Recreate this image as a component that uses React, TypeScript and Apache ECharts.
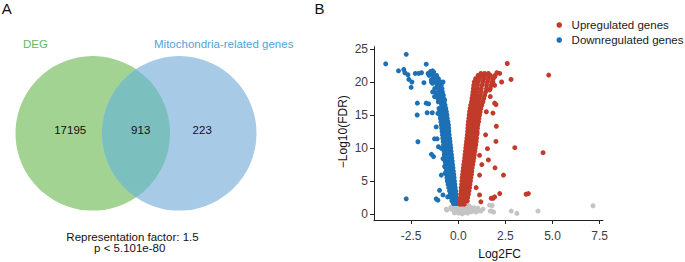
import { useEffect, useRef } from "react";
import * as echarts from "echarts";

// ---------- Panel A (Venn) ----------
const vennSets = ["DEG", "Mitochondria-related genes"];
const vennCounts = [17195, 913, 223];
const vennStats = ["Representation factor: 1.5", "p < 5.101e-80"];

// ---------- Panel B (volcano) ----------
const xTicks = [-2.5, 0, 2.5, 5, 7.5];
const yTicks = [0, 5, 10, 15, 20, 25];
const legendNames = ["Upregulated genes", "Downregulated genes"];

// dense band of upregulated genes, rows: [-log10FDR, log2FC...]
const upBandRows: number[][] = [
  [1.5, 0.08, 0.2, 0.32],
  [2.0, 0.1, 0.22, 0.36, 0.48],
  [2.5, 0.12, 0.25, 0.38, 0.5],
  [3.0, 0.13, 0.27, 0.4, 0.54],
  [3.5, 0.15, 0.29, 0.43, 0.57],
  [4.0, 0.16, 0.3, 0.45, 0.6],
  [4.5, 0.18, 0.32, 0.47, 0.62],
  [5.0, 0.19, 0.34, 0.5, 0.65],
  [5.5, 0.21, 0.36, 0.52, 0.67],
  [6.0, 0.23, 0.38, 0.54, 0.7],
  [6.5, 0.25, 0.4, 0.56, 0.72],
  [7.0, 0.27, 0.42, 0.58, 0.74],
  [7.5, 0.29, 0.44, 0.6, 0.77],
  [8.0, 0.32, 0.47, 0.63, 0.8],
  [8.5, 0.34, 0.5, 0.66, 0.83],
  [9.0, 0.36, 0.52, 0.68, 0.85],
  [9.5, 0.38, 0.54, 0.7, 0.88],
  [10.0, 0.4, 0.56, 0.72, 0.9],
  [10.5, 0.42, 0.58, 0.75, 0.93],
  [11.0, 0.44, 0.6, 0.77, 0.95],
  [11.5, 0.46, 0.62, 0.79, 0.97],
  [12.0, 0.48, 0.64, 0.8, 0.98],
  [12.5, 0.5, 0.66, 0.82, 1.0],
  [13.0, 0.51, 0.68, 0.84, 1.02],
  [13.5, 0.52, 0.7, 0.86, 1.04],
  [14.0, 0.54, 0.72, 0.9, 1.08],
  [14.5, 0.56, 0.74, 0.92, 1.1],
  [15.0, 0.58, 0.76, 0.95, 1.13],
  [15.5, 0.6, 0.78, 0.97, 1.16],
  [16.0, 0.63, 0.82, 1.0, 1.2],
  [16.5, 0.66, 0.85, 1.04, 1.25],
  [17.0, 0.7, 0.88, 1.08, 1.3],
  [17.5, 0.73, 0.92, 1.12, 1.35],
  [18.0, 0.76, 0.95, 1.16, 1.4],
  [18.5, 0.78, 0.98, 1.2, 1.45],
  [19.0, 0.8, 1.0, 1.22, 1.5, 1.7],
  [19.5, 0.82, 1.02, 1.25, 1.5, 1.75],
  [20.0, 0.85, 1.05, 1.3, 1.55, 1.8],
  [20.5, 0.92, 1.12, 1.35, 1.6, 1.85],
  [21.0, 1.05, 1.25, 1.45, 1.7, 1.95],
  [21.3, 1.2, 1.4, 1.6],
];
const upOutliers: number[][] = [
  [2.6, 22.8], [4.8, 21.05], [2.8, 20.4], [2.3, 20.0], [2.2, 21.3], [2.05, 21.4],
  [1.93, 20.8], [1.84, 20.0], [1.93, 19.5], [1.66, 18.8], [1.93, 16.8], [1.7, 17.8],
  [1.84, 15.3], [2.02, 13.3], [1.49, 15.5], [2.0, 16.6], [3.0, 10.05], [4.5, 9.3],
  [2.0, 11.0], [1.55, 9.9], [1.6, 8.2], [1.95, 7.0], [2.4, 5.9], [2.2, 3.1],
  [3.6, 3.0], [3.72, 3.1], [1.85, 2.4], [1.2, 1.85], [1.13, 5.9], [1.13, 8.9],
  [1.0, 12.2], [1.13, 2.9], [1.75, 2.4], [1.93, 2.6], [1.3, 17.0], [1.45, 12.0],
  [1.25, 7.5], [0.95, 4.0],
];

// dense band of downregulated genes, rows: [-log10FDR, log2FC...]
const downBandRows: number[][] = [
  [1.6, -0.1, -0.25],
  [2.0, -0.08, -0.2, -0.34],
  [2.5, -0.1, -0.24, -0.38],
  [3.0, -0.12, -0.26, -0.42],
  [3.5, -0.14, -0.3, -0.46],
  [4.0, -0.16, -0.32, -0.5],
  [4.5, -0.18, -0.35, -0.54],
  [5.0, -0.2, -0.38, -0.58],
  [5.5, -0.22, -0.4, -0.6],
  [6.0, -0.24, -0.42, -0.62],
  [6.5, -0.26, -0.44, -0.64],
  [7.0, -0.28, -0.46, -0.66],
  [7.5, -0.3, -0.48, -0.68],
  [8.0, -0.32, -0.5, -0.7],
  [8.5, -0.34, -0.52, -0.72],
  [9.0, -0.36, -0.54, -0.74],
  [9.5, -0.38, -0.56, -0.75],
  [10.0, -0.4, -0.58, -0.76],
  [10.5, -0.42, -0.6, -0.78],
  [11.0, -0.44, -0.62, -0.8],
  [11.5, -0.46, -0.64, -0.82],
  [12.0, -0.48, -0.66, -0.84],
  [12.5, -0.5, -0.68, -0.86],
  [13.0, -0.51, -0.7, -0.88],
  [13.5, -0.52, -0.72, -0.9],
  [14.0, -0.55, -0.73, -0.92],
  [14.5, -0.58, -0.76, -0.95],
  [15.0, -0.6, -0.78, -0.97],
  [15.5, -0.63, -0.82, -1.0],
  [16.0, -0.66, -0.85, -1.02],
  [16.5, -0.7, -0.88],
  [17.0, -0.74, -0.92, -1.06],
  [17.5, -0.78, -0.95],
  [18.0, -0.8, -1.0, -1.15],
  [18.5, -0.84, -1.04],
  [19.0, -0.86, -1.08, -1.25],
  [19.5, -0.9, -1.12],
  [20.0, -0.95, -1.2, -1.42],
  [20.5, -1.05, -1.3],
  [21.0, -1.15, -1.38, -1.55],
  [21.5, -1.3, -1.45],
];
const downOutliers: number[][] = [
  [-3.85, 22.75], [-2.76, 24.2], [-3.17, 21.7], [-2.89, 21.9], [-2.83, 21.4], [-2.67, 21.1],
  [-2.62, 20.4], [-2.46, 20.0], [-2.5, 19.2], [-2.28, 21.3], [-2.1, 21.3], [-1.95, 21.4],
  [-1.7, 22.7], [-1.82, 19.9], [-1.6, 21.3], [-1.47, 21.6], [-1.36, 21.7], [-1.43, 20.3],
  [-1.3, 20.7], [-1.17, 20.0], [-1.36, 19.8], [-1.08, 19.7], [-1.0, 19.3], [-0.81, 20.0],
  [-0.9, 18.8], [-1.36, 18.5], [-1.17, 18.3], [-1.26, 17.8], [-1.08, 17.5], [-0.94, 17.8],
  [-0.81, 18.0], [-0.72, 17.3], [-0.9, 16.8], [-2.17, 16.8], [-1.7, 16.8], [-1.57, 16.7],
  [-1.65, 15.35], [-1.38, 15.35], [-2.18, 15.0], [-1.08, 15.25], [-0.69, 15.0], [-0.9, 14.5],
  [-0.63, 14.2], [-0.81, 13.7], [-0.55, 13.5], [-1.17, 13.2], [-0.72, 13.2], [-2.14, 10.95],
  [-1.26, 11.4], [-1.12, 11.4], [-1.05, 10.2], [-1.42, 9.05], [-1.31, 8.7], [-0.9, 9.95],
  [-0.81, 8.4], [-0.63, 7.9], [-0.72, 7.2], [-0.9, 5.9], [-0.69, 6.2], [-0.99, 3.6],
  [-0.81, 2.9], [-1.17, 2.3], [-2.76, 2.3], [-0.56, 2.6], [-1.08, 2.1],
];

// not significant genes
const nsGenes: number[][] = [
  [7.15, 1.26], [4.23, 0.45], [2.81, 0.45], [3.11, 0.1], [1.88, 0.3], [1.7, 0.45],
  [1.8, 1.3], [-0.6, 0.6], [0.93, 0.3], [1.2, 0.45], [-0.64, 0.76], [-0.37, 0.76],
  [0.83, 0.96], [1.04, 0.9], [1.02, 0.45], [1.31, 0.76], [1.66, 1.36], [1.78, 0.45],
  [0.51, 0.45], [0.24, 0.35], [-0.3, 1.2], [-0.2, 1.5], [-0.15, 0.9], [-0.05, 1.3],
  [0.0, 0.6], [0.05, 1.1], [0.1, 1.5], [0.15, 0.8], [0.2, 1.2], [0.25, 0.5],
  [0.3, 1.0], [0.35, 1.4], [0.4, 0.7], [0.45, 1.1], [0.5, 0.8], [0.55, 1.3],
  [0.6, 0.6], [0.65, 1.0], [-0.1, 0.4], [0.1, 0.3], [0.3, 0.2], [-0.25, 0.6],
  [0.2, 0.05], [0.0, 0.15], [0.4, 0.35], [-0.4, 1.0], [0.7, 0.35], [0.15, 1.7],
  [-0.2, 0.2], [0.5, 0.15], [0.75, 0.7], [0.35, 0.6], [-0.05, 0.85], [0.25, 0.95],
];

const flattenRows = (rows: number[][]) =>
  rows.flatMap(([y, ...xs]) => xs.map((x) => [x, y]));

const upGenes = [...flattenRows(upBandRows), ...upOutliers];
const downGenes = [...flattenRows(downBandRows), ...downOutliers];

const FONT = "Liberation Sans, Arial, Helvetica, sans-serif";
const RED = "#c13a2a";
const BLUE = "#1c71b6";
const GREY = "#c4c4c4";

// Venn geometry
const VENN_R = 77.3;
const VENN_CY = 133.3;
const VENN_CX = [92.8, 179.2];

export default function App() {
  const ref = useRef<HTMLDivElement>(null);

  useEffect(() => {
    if (!ref.current) return;

    // lens (intersection) of the two Venn circles
    const half = (VENN_CX[1] - VENN_CX[0]) / 2;
    const mid = VENN_CX[0] + half;
    const h = Math.sqrt(VENN_R * VENN_R - half * half);
    const top = VENN_CY - h;
    const bot = VENN_CY + h;
    const lens = `M${mid} ${top} A${VENN_R} ${VENN_R} 0 0 1 ${mid} ${bot} A${VENN_R} ${VENN_R} 0 0 1 ${mid} ${top} Z`;
    echarts.graphic.registerShape("vennLens", echarts.graphic.extendPath(lens, {}) as any);

    const chart = echarts.init(ref.current, undefined, { renderer: "svg" });

    const txt = (
      text: string,
      x: number,
      y: number,
      size: number,
      fill: string,
      extra: Record<string, unknown> = {}
    ) => ({
      type: "text",
      x,
      y,
      silent: true,
      ...extra,
      style: {
        text,
        fill,
        fontSize: size,
        fontFamily: FONT,
        align: "center",
        verticalAlign: "middle",
      },
    });

    chart.setOption({
      animation: false,
      backgroundColor: "#ffffff",
      textStyle: { fontFamily: FONT },
      grid: { left: 374, right: 82, top: 46.7, bottom: 42, containLabel: false },
      legend: {
        data: legendNames,
        orient: "vertical",
        left: 556.5,
        top: 18.5,
        padding: 0,
        itemGap: 2,
        itemWidth: 5.5,
        itemHeight: 5.5,
        icon: "circle",
        selectedMode: false,
        textStyle: {
          fontSize: 11.5,
          fontFamily: FONT,
          color: "#1a1a1a",
          lineHeight: 13,
          padding: [0, 0, 0, 4.6],
        },
      },
      xAxis: {
        type: "value",
        min: -4.47,
        max: 7.68,
        splitLine: { show: false },
        axisLine: { onZero: false, lineStyle: { color: "#222", width: 1 } },
        axisTick: {
          show: true,
          length: 4,
          customValues: xTicks,
          lineStyle: { color: "#222", width: 1 },
        },
        axisLabel: {
          customValues: xTicks,
          formatter: (v: number) => v.toFixed(1),
          fontSize: 12,
          color: "#3d3d3d",
          margin: 10,
          fontFamily: FONT,
        },
      },
      yAxis: {
        type: "value",
        min: -0.9,
        max: 25.35,
        splitLine: { show: false },
        axisLine: { show: true, onZero: false, lineStyle: { color: "#222", width: 1 } },
        axisTick: {
          show: true,
          length: 4,
          customValues: yTicks,
          lineStyle: { color: "#222", width: 1 },
        },
        axisLabel: {
          customValues: yTicks,
          fontSize: 12,
          color: "#3d3d3d",
          margin: 6,
          fontFamily: FONT,
        },
      },
      series: [
        {
          name: "Not significant",
          type: "scatter",
          data: nsGenes,
          symbolSize: 5,
          itemStyle: { color: GREY, opacity: 1 },
          silent: true,
        },
        {
          name: legendNames[1],
          type: "scatter",
          data: downGenes,
          symbolSize: 5,
          itemStyle: { color: BLUE, opacity: 1 },
          silent: true,
        },
        {
          name: legendNames[0],
          type: "scatter",
          data: upGenes,
          symbolSize: 5,
          itemStyle: { color: RED, opacity: 1 },
          silent: true,
        },
      ],
      graphic: [
        // Venn diagram
        {
          type: "circle",
          silent: true,
          shape: { cx: VENN_CX[0], cy: VENN_CY, r: VENN_R },
          style: { fill: "#a3d393" },
        },
        {
          type: "circle",
          silent: true,
          shape: { cx: VENN_CX[1], cy: VENN_CY, r: VENN_R },
          style: { fill: "#a7cbe7" },
        },
        {
          type: "vennLens",
          silent: true,
          x: 0,
          y: 0,
          scaleX: 1,
          scaleY: 1,
          style: { fill: "#7cbfbf" },
        },
        txt("A", 6.7, 8.5, 15, "#111"),
        txt("B", 319.5, 8.5, 15, "#111"),
        txt(vennSets[0], 35.5, 44.3, 11.5, "#5dbb63"),
        txt(vennSets[1], 223.7, 44.3, 11.5, "#4ea5d9"),
        txt(String(vennCounts[0]), 70.2, 130, 11.5, "#111"),
        txt(String(vennCounts[1]), 140.7, 130, 11.5, "#111"),
        txt(String(vennCounts[2]), 202.2, 130, 11.5, "#111"),
        txt(vennStats[0], 132.5, 237.3, 11.5, "#111"),
        txt(vennStats[1], 129.7, 248.3, 11.5, "#111"),
        // axis titles
        txt("Log2FC", 499.6, 254, 12, "#111"),
        txt("\u2212Log10(FDR)", 343.3, 131.7, 12, "#111", { rotation: Math.PI / 2 }),
      ],
    });

    return () => chart.dispose();
  }, []);

  return (
    <div
      ref={ref}
      style={{ position: "fixed", left: 0, top: 0, width: 685, height: 262 }}
    />
  );
}
